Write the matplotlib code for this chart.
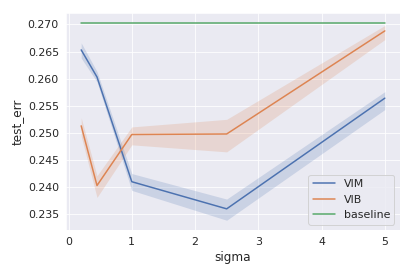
import matplotlib
matplotlib.use('Agg')
import matplotlib.pyplot as plt
import seaborn as sns

sns.set_style('darkgrid')
plt.rcParams['font.family'] = ['DejaVu Sans']

sigma = [0.2, 0.45, 1.0, 2.5, 5.0]

vim_mean = [0.2653, 0.2603, 0.2410, 0.2360, 0.2564]
vim_lo = [0.2638, 0.2594, 0.2394, 0.2339, 0.2543]
vim_hi = [0.2666, 0.2613, 0.2425, 0.2378, 0.2576]

vib_mean = [0.2513, 0.2403, 0.2497, 0.2498, 0.2688]
vib_lo = [0.2494, 0.2381, 0.2478, 0.2465, 0.2672]
vib_hi = [0.2528, 0.2421, 0.2511, 0.2525, 0.2698]

base_mean = [0.2703, 0.2703, 0.2703, 0.2703, 0.2703]

colors = sns.color_palette('deep')

fig = plt.figure(figsize=(412/72, 274/72), dpi=72)
ax = fig.add_axes([66/412, 44/274, 334/412, 217/274])

ax.plot(sigma, vim_mean, color=colors[0], lw=1.5, label='VIM')
ax.fill_between(sigma, vim_lo, vim_hi, color=colors[0], alpha=0.2, lw=0)
ax.plot(sigma, vib_mean, color=colors[1], lw=1.5, label='VIB')
ax.fill_between(sigma, vib_lo, vib_hi, color=colors[1], alpha=0.2, lw=0)
ax.plot(sigma, base_mean, color=colors[2], lw=1.5, label='baseline')

ax.set_xlim(-0.04, 5.24)
ax.set_ylim(0.2321, 0.2721)
ax.set_yticks([0.235, 0.240, 0.245, 0.250, 0.255, 0.260, 0.265, 0.270])
ax.set_yticklabels(['%.3f' % v for v in ax.get_yticks()])
ax.tick_params(labelsize=11)
ax.set_xlabel('sigma', fontsize=12)
ax.set_ylabel('test_err', fontsize=12)
ax.legend(loc='lower right', fontsize=11)

fig.savefig('out.png', dpi=72)
